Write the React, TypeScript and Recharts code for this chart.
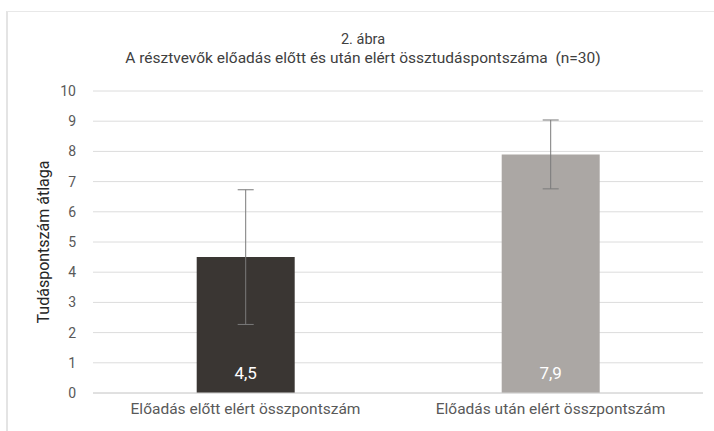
import { BarChart, Bar, XAxis, YAxis, CartesianGrid, ErrorBar, LabelList, Cell } from 'recharts';

const categories = ['Előadás előtt elért összpontszám', 'Előadás után elért összpontszám'];
const means = [4.5, 7.9];
const errors = [2.23, 1.14];
const barColors = ['#3a3633', '#aba7a4'];
const yTicks = [0, 1, 2, 3, 4, 5, 6, 7, 8, 9, 10];

const data = categories.map((name, i) => ({ name, mean: means[i], err: errors[i] }));

const FONT = 'Roboto, "DejaVu Sans", sans-serif';

export default function App() {
  return (
    <div style={{ position: 'absolute', left: 0, top: 0, width: 714, height: 431, background: '#fff', fontFamily: FONT, overflow: 'hidden' }}>
      {/* frame */}
      <div style={{
        position: 'absolute', left: 6, top: 11, width: 720, height: 440,
        borderLeft: '2px solid #e4e4e4', borderTop: '1px solid #e8e8e8',
      }} />
      {/* title */}
      <div style={{ position: 'absolute', left: 0, width: 726, top: 30, textAlign: 'center', fontSize: 15.5, color: '#404040', lineHeight: '19px' }}>
        <div style={{ fontSize: 14.5 }}>2. ábra</div>
        <div style={{ whiteSpace: 'pre' }}>A résztvevők előadás előtt és után elért össztudáspontszáma  (n=30)</div>
      </div>
      <div style={{ position: 'absolute', left: 0, top: 0 }}>
        <BarChart
          width={714}
          height={431}
          data={data}
          margin={{ top: 91, right: 11, bottom: 8, left: 0 }}
          barCategoryGap="34%"
        >
          <CartesianGrid vertical={false} stroke="#dcdcdc" />
          <XAxis
            dataKey="name"
            axisLine={{ stroke: '#d4d4d4' }}
            tickLine={false}
            tickSize={0}
            tickMargin={10}
            height={30}
            tick={{ fontSize: 15.5, fill: '#595959', fontFamily: FONT }}
            interval={0}
          />
          <YAxis
            domain={[0, 10]}
            ticks={yTicks}
            width={93}
            axisLine={false}
            tickLine={false}
            tickSize={0}
            tickMargin={17}
            tick={{ fontSize: 14, fill: '#595959', fontFamily: FONT }}
            label={{
              value: 'Tudáspontszám átlaga',
              angle: -90,
              position: 'center',
              dx: -3,
              style: { fontSize: 16, fill: '#262626', fontFamily: FONT, textAnchor: 'middle' },
            }}
          />
          <Bar dataKey="mean" isAnimationActive={false}>
            {data.map((d, i) => (
              <Cell key={d.name} fill={barColors[i]} />
            ))}
            <ErrorBar dataKey="err" width={8} stroke="#7a7a7a" strokeWidth={1} direction="y" />
            <LabelList
              dataKey="mean"
              position="insideBottom"
              offset={14}
              fill="#ffffff"
              style={{ fontSize: 17, fontFamily: FONT }}
              formatter={(v: number) => String(v).replace('.', ',')}
            />
          </Bar>
        </BarChart>
      </div>
    </div>
  );
}
